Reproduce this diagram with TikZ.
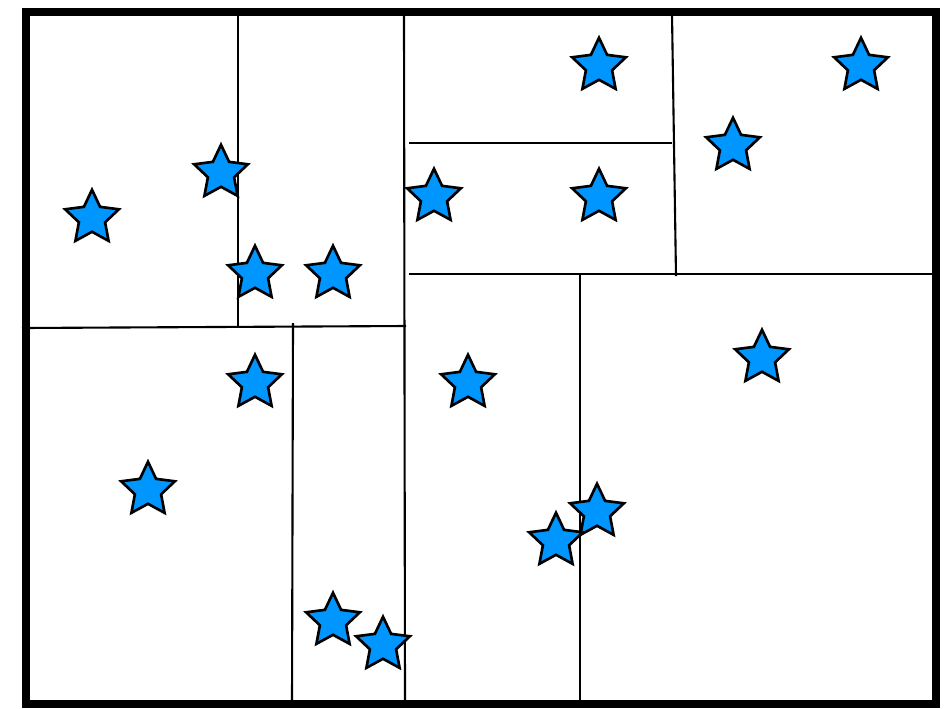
\documentclass[tikz,border=0pt]{standalone}
\usepackage{tikz}
\usetikzlibrary{shapes.geometric}
\definecolor{ptblue}{HTML}{0096FF}

\begin{document}
\begin{tikzpicture}[
    x=0.02cm, y=-0.02cm,
    frame/.style={line width=4.5pt},
    split/.style={line width=1.2pt},
    pt/.style={star, star points=5, star point ratio=2.05, draw, fill=ptblue,
               line width=1.5pt, minimum size=1.13cm, inner sep=0pt},
  ]
  \useasboundingbox (0,0) rectangle (947,708);

  % bounding box of all points
  \draw[frame] (26,12) rectangle (936,704);

  % splitting lines
  \draw[split] (404,16) -- (405,704);
  \draw[split] (22,328) -- (406,326);
  \draw[split] (238,14) -- (238,326);
  \draw[split] (293,323) -- (292,704);
  \draw[split] (409,274) -- (935,274);
  \draw[split] (409,143) -- (672,143);
  \draw[split] (672,14) -- (676,276);
  \draw[split] (580,274) -- (580,704);

  % points
  \node[pt] (p1)  at (92,218)  {};
  \node[pt] (p2)  at (221,173) {};
  \node[pt] (p3)  at (255,274) {};
  \node[pt] (p4)  at (333,274) {};
  \node[pt] (p5)  at (255,383) {};
  \node[pt] (p6)  at (148,490) {};
  \node[pt] (p7)  at (333,621) {};
  \node[pt] (p8)  at (383,645) {};
  \node[pt] (p9)  at (434,197) {};
  \node[pt] (p10) at (599,66)  {};
  \node[pt] (p11) at (599,197) {};
  \node[pt] (p12) at (733,146) {};
  \node[pt] (p13) at (861,66)  {};
  \node[pt] (p14) at (468,383) {};
  \node[pt] (p15) at (762,358) {};
  \node[pt] (p16) at (597,512) {};
  \node[pt] (p17) at (556,541) {};
\end{tikzpicture}
\end{document}
